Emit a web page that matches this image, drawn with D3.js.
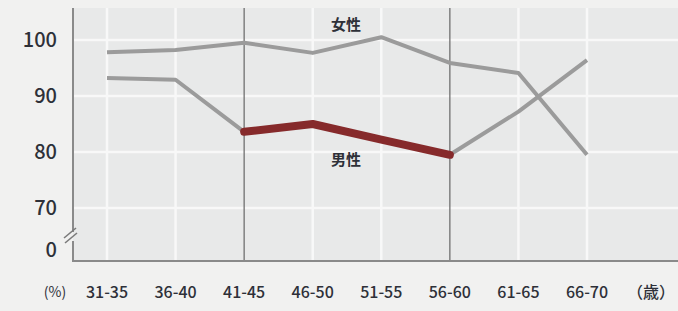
<!DOCTYPE html>
<html><head><meta charset="utf-8">
<script src="https://cdn.jsdelivr.net/npm/d3@7"></script>
<style>
html,body{margin:0;padding:0;background:#f1f1f0;}
svg{display:block;}
text{font-family:"Noto Sans CJK JP","Noto Sans",sans-serif;fill:#2e3038;}
</style></head>
<body>
<svg id="c" width="678" height="311"></svg>
<script>
const categories = ["31-35","36-40","41-45","46-50","51-55","56-60","61-65","66-70"];
const female = [97.8, 98.2, 99.5, 97.7, 100.5, 95.9, 94.1, 79.5];
const male = [93.2, 92.9, 83.6, 85.0, 82.2, 79.5, 87.2, 96.4];
const yTicks = [70, 80, 90, 100];
const highlightFrom = 2, highlightTo = 5;

(function(){
const svg = d3.select("#c");
const pL = 73, pR = 678, pT = 8, pB = 261;

const x = d3.scalePoint().domain(categories).range([107, 587]);
const y = d3.scaleLinear().domain([70, 100]).range([208, 40]);

// plot background
svg.append("rect").attr("x", pL).attr("y", pT).attr("width", pR-pL).attr("height", pB-pT)
  .attr("fill", "#e8e9e9");

// white gridlines
svg.append("g").selectAll("line").data(yTicks).join("line")
  .attr("x1", pL).attr("x2", pR)
  .attr("y1", d => y(d)).attr("y2", d => y(d))
  .attr("stroke", "#f8f8f8").attr("stroke-width", 2.5);
svg.append("g").selectAll("line").data(categories.filter((c,i)=>i!==highlightFrom && i!==highlightTo)).join("line")
  .attr("x1", d => x(d)).attr("x2", d => x(d)).attr("y1", pT).attr("y2", pB)
  .attr("stroke", "#f8f8f8").attr("stroke-width", 2.5);

// dark reference verticals
svg.append("g").selectAll("line").data([categories[highlightFrom], categories[highlightTo]]).join("line")
  .attr("x1", d => x(d)).attr("x2", d => x(d)).attr("y1", pT).attr("y2", pB)
  .attr("stroke", "#6f6f6f").attr("stroke-width", 1.3);

// axes lines
const axisCol = "#8a8a8a";
svg.append("line").attr("x1", pL).attr("x2", pL).attr("y1", pT).attr("y2", 232).attr("stroke", axisCol).attr("stroke-width", 2);
svg.append("line").attr("x1", pL).attr("x2", pL).attr("y1", 241).attr("y2", pB+1).attr("stroke", axisCol).attr("stroke-width", 2);
svg.append("line").attr("x1", pL-1).attr("x2", pR).attr("y1", pB).attr("y2", pB).attr("stroke", axisCol).attr("stroke-width", 2);
// break marks
[[64,238,76,228],[65,243,77,233]].forEach(d => {
  svg.append("line").attr("x1", d[0]).attr("y1", d[1]).attr("x2", d[2]).attr("y2", d[3])
    .attr("stroke", "#7a7a7a").attr("stroke-width", 1.6);
});

// lines
const line = d3.line().x((d,i) => x(categories[i])).y(d => y(d));
svg.append("path").datum(female).attr("d", line).attr("fill","none")
  .attr("stroke", "#9b9b9b").attr("stroke-width", 4).attr("stroke-linejoin","round");
svg.append("path").datum(male).attr("d", line).attr("fill","none")
  .attr("stroke", "#9b9b9b").attr("stroke-width", 4).attr("stroke-linejoin","round");
const seg = d3.line().x(d => x(categories[d])).y(d => y(male[d]));
svg.append("path").datum(d3.range(highlightFrom, highlightTo+1)).attr("d", seg).attr("fill","none")
  .attr("stroke", "#862a2b").attr("stroke-width", 8).attr("stroke-linejoin","round").attr("stroke-linecap","round");

// y tick labels
svg.append("g").selectAll("text").data(yTicks.concat([0])).join("text")
  .attr("x", 57).attr("y", d => d === 0 ? 250 : y(d)).attr("dy", "0.36em")
  .attr("text-anchor", "end").attr("font-size", 20).attr("font-weight", 500).text(d => d);

// x labels
svg.append("g").selectAll("text").data(categories).join("text")
  .attr("x", d => x(d)).attr("y", 292).attr("dy","0.36em").attr("text-anchor","middle")
  .attr("font-size", 16).attr("font-weight", 500).text(d => d);
svg.append("text").attr("x", 55).attr("y", 292).attr("dy","0.36em").attr("text-anchor","middle")
  .attr("font-size", 14).text("(%)");
svg.append("text").attr("x", 651).attr("y", 292).attr("dy","0.36em").attr("text-anchor","middle")
  .attr("font-size", 16).attr("font-weight", 500).text("（歳）");

// series labels
svg.append("text").attr("x", 346).attr("y", 25).attr("dy","0.36em").attr("text-anchor","middle")
  .attr("font-size", 15).attr("font-weight", "bold").text("女性");
svg.append("text").attr("x", 346).attr("y", 160).attr("dy","0.36em").attr("text-anchor","middle")
  .attr("font-size", 15).attr("font-weight", "bold").text("男性");
})();
</script>
</body></html>
